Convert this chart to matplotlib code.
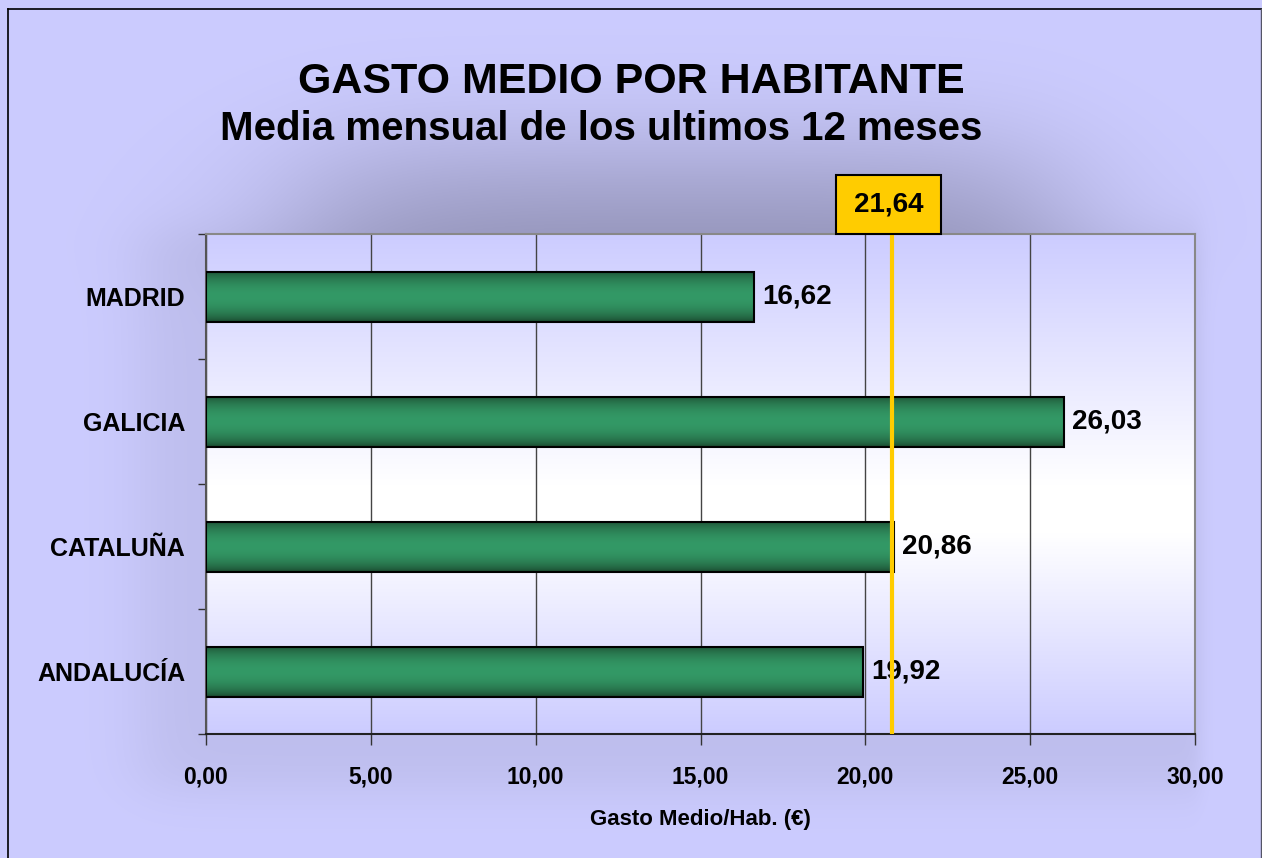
import numpy as np
import matplotlib
matplotlib.use("Agg")
import matplotlib.pyplot as plt
from matplotlib.patches import Rectangle
from matplotlib.lines import Line2D
import matplotlib.transforms as mtransforms

plt.rcParams['font.family'] = ['Liberation Sans', 'DejaVu Sans']
plt.rcParams['font.weight'] = 'bold'

# data
regiones = ["MADRID", "GALICIA", "CATALUÑA", "ANDALUCÍA"]
gasto = [16.62, 26.03, 20.86, 19.92]
media_label = "21,64"
media_x = 20.8          # where the yellow line sits in the picture
xticks = [0, 5, 10, 15, 20, 25, 30]
titulo = "GASTO MEDIO POR HABITANTE"
subtitulo = "Media mensual de los ultimos 12 meses"
xlabel = "Gasto Medio/Hab. (€)"

W, H = 1262, 858
fig = plt.figure(figsize=(W/100, H/100), dpi=100)

# background with soft shadow
lav = np.array([204, 204, 255])/255.
yy, xx = np.mgrid[0:H, 0:W].astype(float)
wx = 0.5*(np.tanh((xx-300)/110) - np.tanh((xx-1060)/100))
wy = np.where(yy < 228, np.exp(-((yy-228)/100)**2), np.exp(-((yy-228)/60)**2))
shade = 0.21*wx*wy
box = 0.25*(1+np.tanh((xx-140)/40))*(1-np.tanh((xx-1200)/10)) \
      * 0.25*(1+np.tanh((yy-230)/30))*(1-np.tanh((yy-790)/30))
shade = shade + 0.07*box
bg = lav[None, None, :]*(1-shade[:, :, None])
bg_ax = fig.add_axes([0, 0, 1, 1], zorder=-10)
bg_ax.imshow(bg, extent=(0, W, H, 0), aspect='auto', interpolation='bilinear')
bg_ax.set_xlim(0, W); bg_ax.set_ylim(H, 0)
bg_ax.axis('off')

# border (bottom is cut off)
fig.add_artist(Line2D([7.5/W, 7.5/W], [0, 1-9/H], transform=fig.transFigure, color='black', lw=1.2))
fig.add_artist(Line2D([7.5/W, 1], [1-9/H, 1-9/H], transform=fig.transFigure, color='black', lw=1.2))
fig.add_artist(Line2D([1261/W, 1261/W], [0, 1-9/H], transform=fig.transFigure, color='#555566', lw=1))

ax = fig.add_axes([206/W, 1-734/H, 989/W, 500/H])
ax.patch.set_visible(False)

n = len(regiones)
ypos = np.arange(n)

# plot area gradient lavender -> white -> lavender
t = np.linspace(0, 1, 300)
f = np.interp(t, [0, 0.5, 0.6, 1], [0, 1, 1, 0])
grad = lav[None, :]*(1-f[:, None]) + np.ones(3)[None, :]*f[:, None]
ax.imshow(grad[:, None, :], extent=(0, 30, n-0.5, -0.5), aspect='auto', zorder=0)

bars = ax.barh(ypos, gasto, height=0.4, color='none', edgecolor='black', lw=1.5, zorder=3)

dark = np.array([28, 78, 50])/255.
light = np.array([51, 153, 102])/255.
s = np.linspace(0, 1, 100)
p = np.sin(np.pi*s)**0.7
bar_grad = dark[None, :]*(1-p[:, None]) + light[None, :]*p[:, None]
for b, y, v in zip(bars, ypos, gasto):
    im = ax.imshow(bar_grad[:, None, :], extent=(0, v, y+0.2, y-0.2), aspect='auto', zorder=2)
    im.set_clip_path(b)
    ax.annotate(f"{v:.2f}".replace('.', ','), (v, y), xytext=(6, 0), textcoords='offset points',
                ha='left', va='center', fontsize=20, fontweight='bold', zorder=3)

ax.set_xlim(0, 30)
ax.set_ylim(n-0.5, -0.5)
ax.set_xticks(xticks)
ax.set_xticklabels([f"{x:.2f}".replace('.', ',') for x in xticks], fontsize=16.5, fontweight='bold')
ax.set_yticks(ypos)
ax.set_yticklabels(regiones, fontsize=18, fontweight='bold')
ax.set_yticks(np.arange(n+1)-0.5, minor=True)
ax.tick_params(axis='y', which='major', length=0, pad=15)
ax.tick_params(axis='y', which='minor', length=6, width=1, color='#333333')
ax.tick_params(axis='x', length=8, width=1, color='#333333', pad=15)
ax.grid(axis='x', color='#444444', lw=1)
ax.set_axisbelow(True)
ax.grid(axis='y', visible=False)
for side in ['top', 'right']:
    ax.spines[side].set_color('#888888')
    ax.spines[side].set_linewidth(1.5)
ax.spines['left'].set_color('#555555')
ax.spines['bottom'].set_color('#222222')
ax.spines['left'].set_linewidth(1.5)
ax.spines['bottom'].set_linewidth(1.5)

ax.set_xlabel(xlabel, fontsize=16, fontweight='bold')
ax.xaxis.set_label_coords(0.5, -0.172)
ax.xaxis.label.set_va('center')

# average line and box
ax.axvline(media_x, color='#FFCC00', lw=3, zorder=5)
trans = mtransforms.blended_transform_factory(ax.transData, ax.transAxes)
bw = 105/989*30
bh = 59/500
ax.add_patch(Rectangle((media_x-0.1-bw/2, 1.0), bw, bh, transform=trans, facecolor='#FFCC00',
                       edgecolor='black', lw=1.5, clip_on=False, zorder=6))
ax.text(media_x-0.1, 1.0+bh/2, media_label, transform=trans, ha='center', va='center',
        fontsize=20, fontweight='bold', zorder=7)

fig.text(631/W, 1-93/H, titulo, ha='center', va='baseline', fontsize=31, fontweight='bold')
fig.text(601/W, 1-140/H, subtitulo, ha='center', va='baseline', fontsize=29, fontweight='bold')

fig.savefig("out.png", dpi=100)
